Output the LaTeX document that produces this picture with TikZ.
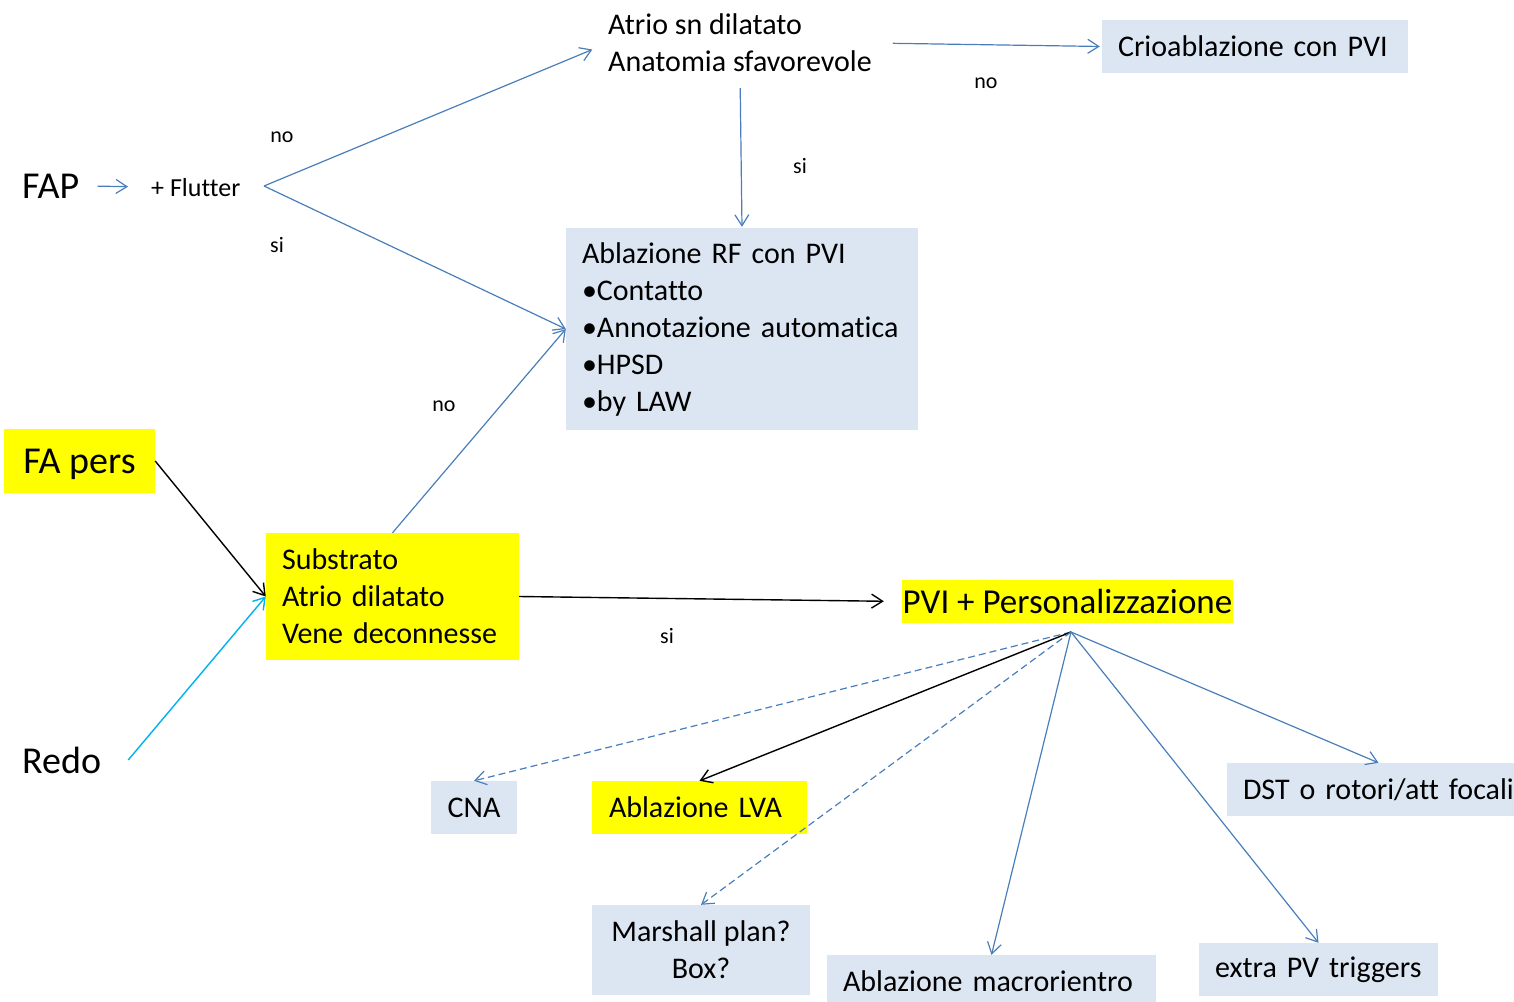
\documentclass[tikz,border=0pt]{standalone}
\usepackage{fontspec}
\setmainfont{Carlito}[Ligatures={NoCommon,NoContextual}]
\usetikzlibrary{arrows.meta,calc}

\definecolor{lineblue}{RGB}{74,126,187}
\definecolor{boxblue}{RGB}{220,230,242}
\definecolor{hiyellow}{RGB}{255,255,0}
\definecolor{redocyan}{RGB}{0,176,240}

\begin{document}
\begin{tikzpicture}[x=1pt,y=-1pt,
  body/.style={font=\fontsize{30}{37}\selectfont},
  big/.style={font=\fontsize{38}{46}\selectfont},
  lbl/.style={font=\fontsize{22}{26}\selectfont, inner sep=0pt},
  plain/.style={body, inner sep=0pt, align=left},
  bluebox/.style={body, rectangle, fill=boxblue, inner xsep=16pt, inner ysep=0pt, align=left},
  yellowbox/.style={body, rectangle, fill=hiyellow, inner xsep=16pt, inner ysep=0pt, align=left},
  tip/.style={-{Straight Barb[length=11pt,width=14pt]}},
  arr/.style={tip, line width=1.2pt, draw=lineblue},
  darr/.style={arr, dash pattern=on 7pt off 4pt},
  karr/.style={tip, line width=1.4pt, draw=black},
  carr/.style={tip, line width=1.4pt, draw=redocyan}
]
\useasboundingbox (0,0) rectangle (1514,1001);
\clip (0,0) rectangle (1514,1001);

% ---- left column: entry points
\node[big, inner sep=0pt, anchor=base west] (fap) at (22,198) {FAP};
\node[font=\fontsize{26}{31}\selectfont, inner sep=0pt, anchor=base west] (flut) at (151,196) {+ Flutter};
\node[big, rectangle, fill=hiyellow, minimum width=151pt, minimum height=64pt, inner sep=0pt, text depth=0pt] (fapers) at (79.5,461) {FA pers};
\node[big, inner sep=0pt, anchor=base west] (redo) at (22,773) {Redo};

% ---- upper decision
\node[plain] (atrio) at (740,43) {Atrio sn dilatato\\Anatomia sfavorevole};
\node[bluebox, minimum width=306pt, minimum height=53pt, text width=274pt] (crio) at (1255,46.5) {Crioablazione con PVI};
\node[bluebox, minimum width=352pt, minimum height=202pt, text width=320pt] (rf) at (742,329)
  {Ablazione RF con PVI\\•Contatto\\•Annotazione automatica\\•HPSD\\•by LAW};

% ---- substrate and personalised strategy
\node[yellowbox, minimum width=253pt, minimum height=127pt, text width=221pt] (sub) at (392.5,596.5)
  {Substrato\\Atrio dilatato\\Vene deconnesse};
\node[font=\fontsize{35}{42}\selectfont, rectangle, fill=hiyellow, minimum width=331pt, minimum height=43pt, inner sep=0pt] (pvi) at (1067.5,601.5) {PVI + Personalizzazione};
\coordinate (hub) at (1071,632);

% ---- options
\node[bluebox, minimum width=86pt, minimum height=53pt, inner xsep=0pt, align=center] (cna) at (474,807.5) {CNA};
\node[yellowbox, minimum width=215pt, minimum height=53pt, text width=181pt, inner xsep=17pt] (lva) at (699.5,807.5) {Ablazione LVA};
\node[bluebox, minimum width=218pt, minimum height=90pt, inner xsep=0pt, align=center] (marsh) at (701,950) {Marshall plan?\\Box?};
\node[bluebox, minimum width=329pt, minimum height=53pt, text width=297pt] (macro) at (991.5,981.5) {Ablazione macrorientro};
\node[bluebox, minimum width=239pt, minimum height=53pt, text width=207pt] (extra) at (1318.5,969.5) {extra PV triggers};
\node[bluebox, minimum width=303pt, minimum height=53pt, text width=271pt] (dst) at (1378.5,789.5) {DST o rotori/att focali};

% ---- branch labels
\node[lbl] (l1) at (282,137) {no};
\node[lbl] (l2) at (277,245) {si};
\node[lbl] (l3) at (986,83) {no};
\node[lbl] (l4) at (800,166) {si};
\node[lbl] (l5) at (444,406) {no};
\node[lbl] (l6) at (667,636) {si};

% ---- connectors
\coordinate (split) at (264,186);
\draw[arr, shorten <=18pt, shorten >=23pt] (fap.east) -- (flut.west);
\draw[arr, shorten >=17pt] (split) -- (atrio.west);
\draw[arr] (split) -- (rf.west);
\draw[arr, shorten <=21pt, shorten >=2pt] (atrio.east) -- (crio.west);
\draw[arr, shorten <=16pt, shorten >=1pt] (atrio.south) -- (rf.north);
\draw[line width=1.4pt, -{Straight Barb[length=11pt,width=14pt]}] (fapers.east) -- (sub.west);
\draw[carr] ($(redo.east)+(27,0)$) -- (sub.west);
\draw[arr] (sub.north) -- (rf.west);
\draw[karr, shorten >=18pt] (sub.east) -- (pvi.west);

\draw[darr] (hub) -- (cna.north);
\draw[karr] (hub) -- (lva.north);
\draw[darr] (hub) -- (marsh.north);
\draw[arr] (hub) -- (macro.north);
\draw[arr] (hub) -- (extra.north);
\draw[arr] (hub) -- (dst.north);
\end{tikzpicture}
\end{document}
